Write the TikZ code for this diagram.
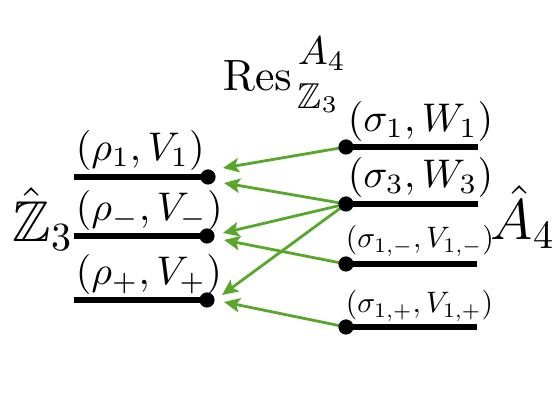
\documentclass[tikz,border=0pt]{standalone}
\usepackage{amsmath,amssymb}
\usepackage{graphicx}
\usetikzlibrary{arrows.meta}
\definecolor{arrgreen}{RGB}{88,166,42}
\newcommand{\scrA}[1]{{\fontsize{10}{11}\selectfont$#1$}}
\newcommand{\scrB}[1]{{\fontsize{9}{10}\selectfont$#1$}}
\begin{document}
\begin{tikzpicture}[x=0.25pt,y=-0.25pt,
  lvl/.style={line width=1.7pt},
  dotnode/.style={circle,fill=black,inner sep=0pt,minimum size=3.8pt},
  conn/.style={draw=arrgreen,line width=0.7pt,-{Stealth[length=4pt,width=3.6pt,inset=0.9pt]}},
  lab/.style={inner sep=0pt,anchor=base west}]
\useasboundingbox (0,0) rectangle (557,414);
% dot centres
\coordinate (l1) at (208,177);
\coordinate (l2) at (207,236);
\coordinate (l3) at (207,300);
\coordinate (r1) at (346,147);
\coordinate (r2) at (346,204);
\coordinate (r3) at (346,264);
\coordinate (r4) at (346,327);
% arrow tips
\coordinate (t11) at (223,168);
\coordinate (t12) at (224,183);
\coordinate (t21) at (223,233);
\coordinate (t22) at (224,240);
\coordinate (t31) at (222,295);
\coordinate (t32) at (224,302);
% levels
\draw[lvl] (74,177) -- (l1);
\draw[lvl] (74,236) -- (l2);
\draw[lvl] (74,300) -- (l3);
\draw[lvl] (r1) -- (478,147);
\draw[lvl] (r2) -- (478,204);
\draw[lvl] (r3) -- (477,264);
\draw[lvl] (r4) -- (477,327);
% arrows
\draw[conn] (r1) -- (t11);
\draw[conn] (r2) -- (t12);
\draw[conn] (r2) -- (t21);
\draw[conn] (r2) -- (t31);
\draw[conn] (r3) -- (t22);
\draw[conn] (r4) -- (t32);
% dots
\node[dotnode] (dl1) at (l1) {};
\node[dotnode] (dl2) at (l2) {};
\node[dotnode] (dl3) at (l3) {};
\node[dotnode] (dr1) at (r1) {};
\node[dotnode] (dr2) at (r2) {};
\node[dotnode] (dr3) at (r3) {};
\node[dotnode] (dr4) at (r4) {};
% labels
\node[lab] (rho1) at (75,161) {$(\rho_1,V_1)$};
\node[lab] (rhom) at (75,221) {$(\rho_-,V_-)$};
\node[lab] (rhop) at (75,285) {$(\rho_+,V_+)$};
\node[lab] (sig1) at (347,132) {$(\sigma_1,W_1)$};
\node[lab] (sig3) at (347,188) {$(\sigma_3,W_3)$};
\node[lab] (sigm) at (345,248) {\scalebox{0.74}{$(\sigma_{1,-},V_{1,-})$}};
\node[lab] (sigp) at (345,313) {\scalebox{0.74}{$(\sigma_{1,+},V_{1,+})$}};
\node[lab,font=\Large] (zz) at (12,242) {$\hat{\mathbb{Z}}_3$};
\node[lab,font=\Large] (aa) at (490,240) {$\hat{A}_4$};
\node[lab,font=\fontsize{10.5}{12}\selectfont] (res) at (222,91)
  {$\mathrm{Res}$\hspace{1.5pt}\rlap{\raisebox{6.5pt}{\scrA{A_4}}}\raisebox{-4.5pt}{\scrB{\mathbb{Z}_3}}};
\end{tikzpicture}
\end{document}
